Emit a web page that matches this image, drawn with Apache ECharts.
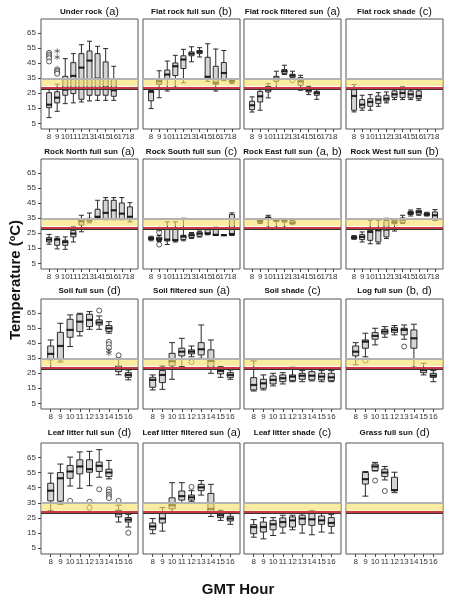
<!DOCTYPE html>
<html><head><meta charset="utf-8">
<script src="https://cdn.jsdelivr.net/npm/echarts@6/dist/echarts.min.js"></script>
<style>html,body{margin:0;padding:0;background:#fff}#c{width:449px;height:600px}</style>
</head><body><div id="c"></div>
<script>
// ---- data ----
const hoursLong = ['8','9','10','11','12','13','14','15','16','17','18'];
const hoursShort = ['8','9','10','11','12','13','14','15','16'];
const yTicks = [5, 15, 25, 35, 45, 55, 65];
const bandLow = 29.8, bandHigh = 34.4, greyLine = 34.8, redLine = 29.0, darkLine = 27.8;

// box stats: [hour, min, Q1, median, Q3, max]
const underRock = [
 ['8', 8.8, 15.4, 17.4, 25.4, 27.5], ['9', 13, 18.6, 22.1, 26, 31], ['10', 18.1, 23.7, 27.4, 36.3, 48.1],
 ['11', 18.6, 24.8, 36.6, 45.4, 51.4], ['12', 19.2, 21, 42.1, 51.4, 57.4], ['13', 19.9, 23.7, 46.8, 53.2, 59.7],
 ['14', 20.3, 23.7, 34.8, 51.4, 56.3], ['15', 20.3, 23.7, 28.8, 45.9, 54.8], ['16', 20.3, 23, 27, 34.3, 43]];
const underRockOut = [['8', 52], ['8', 50.8], ['8', 49.6], ['8', 48.4], ['8', 46.2], ['9', 41], ['9', 40], ['9', 39], ['9', 38]];
const underRockStar = [['9', 53], ['9', 49]];

const flatRockFull = [
 ['8', 14.8, 20, 26, 26.8, 28.5], ['9', 22, 31, 33, 34, 40], ['10', 26.5, 34.5, 37.5, 40.5, 46.5],
 ['11', 29, 36.8, 43, 45.2, 50.3], ['12', 32, 41.5, 47.5, 50, 54.3], ['13', 46, 50, 51.4, 52.6, 56],
 ['14', 49.2, 51.4, 52.6, 53.5, 55.4], ['15', 33, 35, 36, 49, 58], ['16', 26.5, 31, 32, 43, 54.5],
 ['17', 33.5, 34.5, 38.5, 45.5, 53.5], ['18', 31.5, 32.5, 33, 33.5, 34]];

const flatRockFilt = [
 ['8', 12.5, 14.1, 17, 19.7, 22.6], ['9', 13.7, 19.2, 23, 26.3, 28.8], ['10', 21.9, 25.9, 27.4, 29.7, 31.4],
 ['11', 28.8, 33, 34.8, 36.3, 39.7], ['12', 37.5, 38.1, 39.7, 40.8, 43.7], ['13', 35.2, 35.6, 36.8, 37.7, 39.7],
 ['14', 27, 30.3, 33, 35.4, 37], ['15', 24.1, 25.9, 27, 28.8, 29.7], ['16', 21, 23.7, 25.2, 26.3, 28.1]];
const flatRockFiltOut = [['13', 33.7]];

const flatRockShade = [
 ['8', 12.6, 13.7, 23.2, 27.4, 30.8], ['9', 13.7, 15.2, 17.4, 20.8, 23.7], ['10', 13.7, 16.3, 19.2, 21.4, 24.1],
 ['11', 16.3, 18.1, 20.8, 23.2, 25.4], ['12', 18.6, 19.9, 21.4, 23.7, 25.9], ['13', 20.8, 22.1, 24.3, 26.6, 28.6],
 ['14', 20.8, 22.1, 25.2, 27.4, 29.2], ['15', 20.8, 21.9, 24.3, 26.6, 28.8], ['16', 20.3, 21.4, 23.2, 26.6, 28.1]];

const rockNorth = [
 ['8', 17.7, 19.2, 20.8, 22.1, 24.3], ['9', 14.6, 17, 20.8, 21.4, 22.6], ['10', 14.3, 17, 19.2, 20.3, 22.6],
 ['11', 19.2, 22.6, 24.8, 27, 29.2], ['12', 26, 30.5, 33, 34, 37], ['13', 32, 33, 34, 35, 38.5],
 ['14', 35, 35.5, 36, 41, 47], ['15', 34, 34.5, 38.6, 47, 48.8], ['16', 34, 34.5, 40.3, 47, 48.8],
 ['17', 34, 34.5, 38.1, 45.2, 48.8], ['18', 32.6, 34, 36, 42.6, 45.4]];

const rockSouth = [
 ['8', 20, 20.8, 21.6, 22.4, 23], ['9', 19.5, 20.2, 21.2, 22.4, 23.5], ['10', 17.5, 19.9, 20.8, 27.7, 32.6],
 ['11', 19.2, 19.9, 20.5, 27.7, 32.6], ['12', 20, 20.8, 22.8, 23.7, 35], ['13', 21.5, 22.1, 23.7, 24.8, 25.5],
 ['14', 22.5, 23, 24.8, 25.9, 26.5], ['15', 24, 24.3, 25, 27.4, 28], ['16', 23.5, 23.7, 24, 28, 29],
 ['17', 23.5, 23.6, 23.7, 23.8, 24], ['18', 23.5, 24, 24.5, 37.5, 38.6]];
const rockSouthOut = [['9', 25.5], ['9', 17.5]];
const rockSouthStar = [['9', 27.5]];

const rockEast = [
 ['9', 31.5, 32.3, 33, 33.7, 34], ['10', 29, 34.2, 35, 35.9, 37], ['11', 29, 33, 33.5, 34.1, 34.5],
 ['12', 29, 32.5, 33.5, 34, 34.5], ['13', 31, 31.5, 32, 33.5, 34.2]];

const rockWest = [
 ['8', 21, 21.4, 22.1, 23, 23.5], ['9', 19.2, 20.8, 22.6, 24.1, 25.9], ['10', 18, 20.3, 25.9, 27, 33.7],
 ['11', 18, 19.2, 27, 28.1, 33.7], ['12', 21.5, 22.6, 27.5, 33.5, 35], ['13', 26.5, 31.4, 32.5, 33.7, 34],
 ['14', 31.5, 32.1, 34, 35.2, 37], ['15', 36.5, 37.5, 38.5, 39.5, 40.5], ['16', 37, 37.7, 39.2, 40.3, 41.4],
 ['17', 36.5, 36.8, 37.7, 38.6, 39], ['18', 33.5, 34, 37, 39.2, 40.8]];

const soilFull = [
 ['8', 28, 34, 37.9, 43.2, 47.2], ['9', 32.5, 34, 43.2, 52.3, 58.3], ['10', 42.8, 49, 53.9, 61, 63.9],
 ['11', 49.9, 52.8, 59.4, 64.3, 65], ['12', 54.3, 56.1, 60.6, 64.3, 66.1], ['13', 54.3, 57.2, 58.8, 60.6, 63.2],
 ['14', 51.7, 52.8, 55, 56.8, 59.4], ['15', 24, 26.1, 28.3, 29.9, 35], ['16', 20.6, 22.3, 23.9, 25.4, 27.2]];
const soilFullOut = [['13', 66.8], ['14', 46], ['14', 44.3], ['14', 42.1], ['15', 37]];
const soilFullStar = [['14', 40.1], ['14', 38.3]];

const soilFilt = [
 ['8', 13.9, 15.7, 20.6, 22.3, 23.9], ['9', 14.3, 18.8, 23.9, 26.8, 29.9], ['10', 21, 30, 33, 38.3, 45.4],
 ['11', 29.4, 36.6, 39.4, 41.7, 48.3], ['12', 36, 37.9, 39.4, 40.6, 43.2], ['13', 35, 37.2, 41, 45.4, 57.2],
 ['14', 25, 28.3, 33.2, 40.6, 47.2], ['15', 22.3, 24.6, 26.6, 27.7, 29.4], ['16', 21, 22.3, 23.9, 25.4, 27.2]];
const soilFiltOut = [['12', 32.5]];

const soilShade = [
 ['8', 13.2, 13.9, 17.2, 22.1, 33.2], ['9', 13.9, 15, 18.3, 21, 23.9], ['10', 16.6, 17.9, 20.6, 23.2, 25],
 ['11', 17.9, 19.4, 21.7, 23.9, 25.4], ['12', 19.4, 20.1, 22.8, 23.9, 29], ['13', 19.4, 21, 23.4, 25, 26.8],
 ['14', 19.9, 20.6, 23.4, 26.1, 27.7], ['15', 19.4, 20.6, 22.8, 25, 26.8], ['16', 19.4, 20.1, 22.3, 25, 26.8]];

const logFull = [
 ['8', 30.6, 36.6, 39.4, 43.2, 45.4], ['9', 36, 41.7, 46.1, 47.2, 51.7], ['10', 43.9, 47.7, 49.9, 52.1, 55],
 ['11', 49, 51.2, 52.8, 54.3, 56.1], ['12', 50.6, 52.3, 53.9, 55.4, 56.8], ['13', 47.7, 50.6, 53.9, 55, 57.2],
 ['14', 29, 41.7, 48.3, 53.9, 57.7], ['15', 23.9, 25.4, 27.2, 28.8, 31.7], ['16', 19.4, 22.3, 23.4, 25, 26.8]];
const logFullOut = [['9', 33.4], ['13', 42.8]];

const leafFull = [
 ['8', 29.7, 36.3, 43, 47.9, 54.6], ['9', 34, 36.1, 51.2, 55, 60.6], ['10', 46.1, 51.2, 55.7, 59.7, 65.2],
 ['11', 44.6, 54.1, 59, 63.4, 68.6], ['12', 46.3, 55.2, 57.2, 63.4, 69], ['13', 51.9, 55.7, 59.4, 61.9, 70.1],
 ['14', 50.8, 52.3, 55, 57.2, 63], ['15', 22.3, 25.7, 27.9, 30.1, 33.4], ['16', 19, 22.3, 23.9, 25.2, 27.4]];
const leafFullOut = [['10', 36.3], ['12', 35.7], ['12', 31.7], ['13', 43.9], ['14', 43.9], ['14', 42.3],
 ['14', 40.5], ['14', 39.3], ['14', 38.1], ['15', 36.3], ['16', 15.2]];

const leafFilt = [
 ['8', 14.6, 17.2, 19.4, 21.7, 24.6], ['9', 16.3, 21.7, 24.6, 27.9, 31.9], ['10', 29, 31, 33.4, 38.3, 48.3],
 ['11', 35, 36.8, 39.4, 42.8, 48.3], ['12', 35.7, 36.8, 38.6, 40.1, 43], ['13', 40.1, 43, 45.2, 47.2, 49.7],
 ['14', 26, 29, 31, 41.2, 47.2], ['15', 23.4, 25.2, 26.8, 28.3, 30.1], ['16', 20.8, 23, 24.6, 26.1, 27.9]];
const leafFiltOut = [['12', 45.5]];

const leafShade = [
 ['8', 12.3, 14.6, 19, 20.6, 23.9], ['9', 11.2, 15.7, 19, 22.3, 25.2], ['10', 13.4, 17.2, 20.8, 23.4, 25.2],
 ['11', 15, 19, 22.3, 25, 26.8], ['12', 17.2, 19, 23.4, 25.7, 26.8], ['13', 15, 20.6, 24.6, 26.8, 29],
 ['14', 13.9, 20.1, 24.1, 27.9, 29.7], ['15', 15.7, 20.8, 23.4, 26.3, 28.3], ['16', 15, 19.4, 21.7, 25.2, 27.2]];

const grassFull = [
 ['9', 39.4, 47.4, 50.6, 55, 55.7], ['10', 56, 56.3, 59, 60.6, 61.7], ['11', 50.1, 52.3, 55, 57.2, 59],
 ['12', 41.7, 43, 43.4, 51.9, 55.2]];
const grassFullOut = [['10', 49.7], ['11', 42.8]];

const panelNames = ['Under rock', 'Flat rock full sun', 'Flat rock filtered sun', 'Flat rock shade',
 'Rock North full sun', 'Rock South full sun', 'Rock East full sun', 'Rock West full sun',
 'Soil full sun', 'Soil filtered sun', 'Soil shade', 'Log full sun',
 'Leaf litter full sun', 'Leaf litter filtered sun', 'Leaf litter shade', 'Grass full sun'];
const panelLetters = ['(a)', '(b)', '(a)', '(c)', '(a)', '(c)', '(a, b)', '(b)',
 '(d)', '(a)', '(c)', '(b, d)', '(d)', '(a)', '(c)', '(d)'];

// ---- build ----
const FONT = '"Liberation Sans", Arial, sans-serif';
const panels = [
 {hours: hoursLong, box: underRock, out: underRockOut, star: underRockStar},
 {hours: hoursLong, box: flatRockFull, out: [], star: []},
 {hours: hoursLong, box: flatRockFilt, out: flatRockFiltOut, star: []},
 {hours: hoursLong, box: flatRockShade, out: [], star: []},
 {hours: hoursLong, box: rockNorth, out: [], star: []},
 {hours: hoursLong, box: rockSouth, out: rockSouthOut, star: rockSouthStar},
 {hours: hoursLong, box: rockEast, out: [], star: []},
 {hours: hoursLong, box: rockWest, out: [], star: []},
 {hours: hoursShort, box: soilFull, out: soilFullOut, star: soilFullStar},
 {hours: hoursShort, box: soilFilt, out: soilFiltOut, star: []},
 {hours: hoursShort, box: soilShade, out: [], star: []},
 {hours: hoursShort, box: logFull, out: logFullOut, star: []},
 {hours: hoursShort, box: leafFull, out: leafFullOut, star: []},
 {hours: hoursShort, box: leafFilt, out: leafFiltOut, star: []},
 {hours: hoursShort, box: leafShade, out: [], star: []},
 {hours: hoursShort, box: grassFull, out: grassFullOut, star: []}
];
const colL = [41, 143, 244, 346];
const rowT = [19, 159, 299, 443];
const rowH = [110, 110, 110, 111];
const titleY = [12, 152, 291, 433];
const starPath = 'path://M-0.5,-5H0.5V-1.2L3.8,-3.1L4.3,-2.2L1,-0.3L4.3,1.6L3.8,2.5L0.5,0.6V5H-0.5V0.6L-3.8,2.5L-4.3,1.6L-1,-0.3L-4.3,-2.2L-3.8,-3.1L-0.5,-1.2Z';

const grid = [], xAxis = [], yAxis = [], series = [], graphic = [];
panels.forEach((p, i) => {
  const r = Math.floor(i / 4), c = i % 4;
  grid.push({left: colL[c], top: rowT[r], width: 97, height: rowH[r], show: true,
    borderColor: '#555', borderWidth: 1, backgroundColor: 'transparent'});
  const first = String(+p.hours[0] - 1), last = String(+p.hours[p.hours.length - 1] + 1);
  const cats = [first, ...p.hours, last];
  const bw = p.hours.length > 9 ? 5 : 6;
  xAxis.push({type: 'category', gridIndex: i, data: cats, boundaryGap: false,
    axisLine: {show: false},
    axisTick: {show: true, inside: false, length: 3, lineStyle: {color: '#444'},
      interval: (idx) => idx > 0 && idx < cats.length - 1},
    axisLabel: {interval: 0, fontSize: 8, color: '#333', margin: 4, fontFamily: FONT,
      formatter: (v) => (v === first || v === last) ? '' : v},
    splitLine: {show: false}});
  yAxis.push({type: 'value', gridIndex: i, min: 1.2, max: 74.5,
    splitLine: {show: false}, axisLine: {show: false},
    axisTick: {show: c === 0, length: 3, customValues: yTicks, lineStyle: {color: '#444'}},
    axisLabel: {show: c === 0, customValues: yTicks, fontSize: 8, color: '#333', margin: 5, fontFamily: FONT}});
  series.push({type: 'boxplot', xAxisIndex: i, yAxisIndex: i, z: 2, silent: true,
    encode: {x: 0, y: [1, 2, 3, 4, 5]},
    boxWidth: [bw, bw],
    itemStyle: {color: '#d5d5d5', borderColor: '#2b2b2b', borderWidth: 1},
    data: p.box});
  series.push({type: 'scatter', xAxisIndex: i, yAxisIndex: i, z: 2, silent: true,
    symbol: 'rect', symbolSize: [bw + 1, 2.2], itemStyle: {color: '#111'},
    data: p.box.map(b => [b[0], b[3]])});
  series.push({type: 'scatter', xAxisIndex: i, yAxisIndex: i, z: 2, silent: true,
    symbol: 'circle', symbolSize: 5, itemStyle: {color: '#fff', borderColor: '#333', borderWidth: 1},
    data: p.out});
  series.push({type: 'scatter', xAxisIndex: i, yAxisIndex: i, z: 2, silent: true,
    symbol: starPath, symbolSize: 6, itemStyle: {color: '#222'},
    data: p.star});
  series.push({type: 'line', xAxisIndex: i, yAxisIndex: i, z: 3, silent: true, data: [],
    markArea: {silent: true, z: 4, itemStyle: {color: 'rgba(250,224,100,0.6)'},
      data: [[{yAxis: bandLow}, {yAxis: bandHigh}]]},
    markLine: {silent: true, z: 5, symbol: 'none', label: {show: false}, animation: false,
      data: [
        {yAxis: greyLine, lineStyle: {color: '#b3b3b3', width: 2, type: 'solid'}},
        {yAxis: redLine, lineStyle: {color: '#c83a44', width: 2, type: 'solid'}},
        {yAxis: darkLine, lineStyle: {color: '#333', width: 1, type: 'solid'}}
      ]}});
  graphic.push({type: 'text', x: colL[c] + 48.5, y: titleY[r], silent: true,
    style: {text: '{a|' + panelNames[i] + '} {b|' + panelLetters[i] + '}',
      align: 'center', verticalAlign: 'middle',
      rich: {a: {fontSize: 8, fontWeight: 'bold', fontFamily: FONT, fill: '#111'},
             b: {fontSize: 11, fontWeight: 'normal', fontFamily: FONT, fill: '#111'}}}});
});
graphic.push({type: 'text', x: 16, y: 280, rotation: Math.PI / 2, silent: true,
  style: {text: 'Temperature (ºC)', font: 'bold 15px ' + FONT, fill: '#111', align: 'center', verticalAlign: 'middle'}});
graphic.push({type: 'text', x: 238, y: 590, silent: true,
  style: {text: 'GMT Hour', font: 'bold 15px ' + FONT, fill: '#111', align: 'center', verticalAlign: 'middle'}});

const chart = echarts.init(document.getElementById('c'), null, {renderer: 'canvas'});
chart.setOption({animation: false, grid, xAxis, yAxis, series, graphic});
</script></body></html>
